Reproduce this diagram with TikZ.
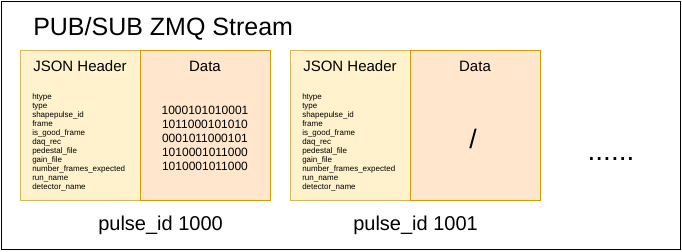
\documentclass[tikz,border=0pt]{standalone}
\usepackage{fontspec}
\setmainfont{Liberation Sans}
\definecolor{hdrfill}{HTML}{FFF2CC}
\definecolor{hdrline}{HTML}{D6B656}
\definecolor{datfill}{HTML}{FFE6CC}
\definecolor{datline}{HTML}{D79B00}
\begin{document}
\begin{tikzpicture}[x=0.75pt,y=-0.75pt,
  hdrbox/.style={draw=hdrline,fill=hdrfill,line width=0.75pt,minimum width=90pt,minimum height=112.5pt,inner sep=0pt},
  datbox/.style={draw=datline,fill=datfill,line width=0.75pt,minimum width=97.5pt,minimum height=112.5pt,inner sep=0pt},
  lbl/.style={inner sep=0pt,anchor=base},
  titlefont/.style={font=\fontsize{18.75}{22}\selectfont},
  headfont/.style={font=\fontsize{11.25}{13}\selectfont},
  fieldfont/.style={font=\fontsize{6}{7}\selectfont},
  digitfont/.style={font=\fontsize{9}{10.5}\selectfont},
  pulsefont/.style={font=\fontsize{15}{18}\selectfont}]
\useasboundingbox (0,0) rectangle (682,251);
\draw[line width=0.75pt] (1,1) rectangle (680.5,249.5);
\node[lbl,anchor=base west,titlefont] (title) at (33,35) {PUB/SUB ZMQ Stream};
% packet 1
\node[hdrbox] (h1) at (80,125) {};
\node[datbox] (d1) at (205,125) {};
\node[lbl,headfont] (h1t) at (80,71) {JSON Header};
\node[lbl,headfont] (d1t) at (205,71) {Data};
% packet 2
\node[hdrbox] (h2) at (350,125) {};
\node[datbox] (d2) at (475,125) {};
\node[lbl,headfont] (h2t) at (350,71) {JSON Header};
\node[lbl,headfont] (d2t) at (475,71) {Data};
% fields
\foreach \f [count=\i from 0] in {htype,type,shapepulse\_id,frame,is\_good\_frame,daq\_rec,pedestal\_file,gain\_file,number\_frames\_expected,run\_name,detector\_name}{
  \node[lbl,anchor=base west,fieldfont] (fa\i) at (32,99+9*\i) {\f};
  \node[lbl,anchor=base west,fieldfont] (fb\i) at (302,99+9*\i) {\f};
}
% data digits
\foreach \b [count=\i from 0] in {1000101010001,1011000101010,0001011000101,1010001011000,1010001011000}{
  \node[lbl,digitfont] (bits\i) at (205,114+14*\i) {\b};
}
\node[lbl,font=\fontsize{20}{24}\selectfont] (slash) at (473,148) {/};
\node[lbl,font=\fontsize{21}{24}\selectfont] (dots) at (611,160) {......};
\node[lbl,anchor=base west,pulsefont] (p1) at (98,230) {pulse\_id 1000};
\node[lbl,anchor=base west,pulsefont] (p2) at (353,230) {pulse\_id 1001};
\end{tikzpicture}
\end{document}
